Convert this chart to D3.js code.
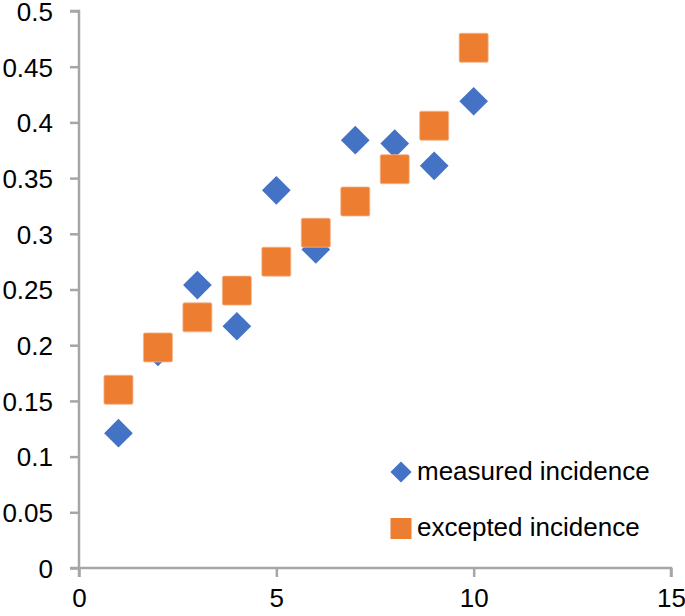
<!DOCTYPE html>
<html>
<head>
<meta charset="utf-8">
<script src="https://cdn.jsdelivr.net/npm/d3@7"></script>
<style>
  body { margin: 0; background: #fff; }
  svg text { font-family: "Liberation Sans", Arial, sans-serif; fill: #000; }
</style>
</head>
<body>
<svg id="chart" width="685" height="616"></svg>
<script>
var xValues = [1, 2, 3, 4, 5, 6, 7, 8, 9, 10];
var measured = [0.121, 0.194, 0.254, 0.217, 0.339, 0.286, 0.384, 0.381, 0.361, 0.419];
var excepted = [0.160, 0.198, 0.225, 0.249, 0.275, 0.301, 0.329, 0.358, 0.397, 0.467];
var xTicks = [0, 5, 10, 15];
var yTicks = [0, 0.05, 0.1, 0.15, 0.2, 0.25, 0.3, 0.35, 0.4, 0.45, 0.5];
var seriesNames = ["measured incidence", "excepted incidence"];

var svg = d3.select("#chart"),
	blue = "#4472c4",
	orange = "#ed7d31",
	axisColor = "#a6a6a6",
	fontSize = 26;

var x = d3.scaleLinear().domain([0, 15]).range([79, 671]);
var y = d3.scaleLinear().domain([0, 0.5]).range([568, 11]);

// y axis
var yAxis = svg.append("g")
	.attr("transform", "translate(" + x(0) + ",0)")
	.call(d3.axisLeft(y).tickValues(yTicks).tickSize(9).tickPadding(17)
		.tickFormat(function(d) { return d3.format("")(+d.toFixed(2)); }));

// x axis
var xAxis = svg.append("g")
	.attr("transform", "translate(0," + y(0) + ")")
	.call(d3.axisBottom(x).tickValues(xTicks).tickSize(9).tickPadding(12));

[yAxis, xAxis].forEach(function(g) {
	g.select(".domain").attr("stroke", axisColor).attr("stroke-width", 2.5);
	g.selectAll(".tick line").attr("stroke", axisColor).attr("stroke-width", 2.5);
	g.selectAll(".tick text").style("font-size", fontSize + "px").attr("fill", "#000");
});
yAxis.selectAll(".tick text").attr("dy", "0.36em");
// the y axis line runs a bit below the x axis, like the x ticks
yAxis.select(".domain").attr("d", "M-9," + y(0.5) + "H0V" + (y(0) + 9));
xAxis.select(".domain").attr("d", "M" + (x(0) - 9) + ",0H" + x(15) + "V9");

var diamond = d3.symbol().type(d3.symbolSquare).size(20.3 * 20.3);

// measured: diamonds
svg.append("g").selectAll("path")
	.data(xValues)
	.enter().append("path")
	.attr("d", diamond)
	.attr("transform", function(d, i) {
		return "translate(" + x(d) + "," + y(measured[i]) + ") rotate(45)";
	})
	.attr("fill", blue);

// excepted: squares on top
var sq = 29;
svg.append("g").selectAll("rect")
	.data(xValues)
	.enter().append("rect")
	.attr("x", function(d) { return x(d) - sq / 2; })
	.attr("y", function(d, i) { return y(excepted[i]) - sq / 2; })
	.attr("width", sq)
	.attr("height", sq)
	.attr("rx", 1.5)
	.attr("fill", orange)
	.attr("stroke", "#f6b48a")
	.attr("stroke-width", 0.8);

// legend
var legend = svg.append("g");
legend.append("path")
	.attr("d", d3.symbol().type(d3.symbolSquare).size(15 * 15))
	.attr("transform", "translate(401,472) rotate(45)")
	.attr("fill", blue);
legend.append("rect")
	.attr("x", 390.5).attr("y", 518)
	.attr("width", 21).attr("height", 21)
	.attr("fill", orange);
legend.selectAll("text")
	.data(seriesNames)
	.enter().append("text")
	.attr("x", 417)
	.attr("y", function(d, i) { return 480 + i * 56; })
	.style("font-size", fontSize + "px")
	.text(function(d) { return d; });
</script>
</body>
</html>
